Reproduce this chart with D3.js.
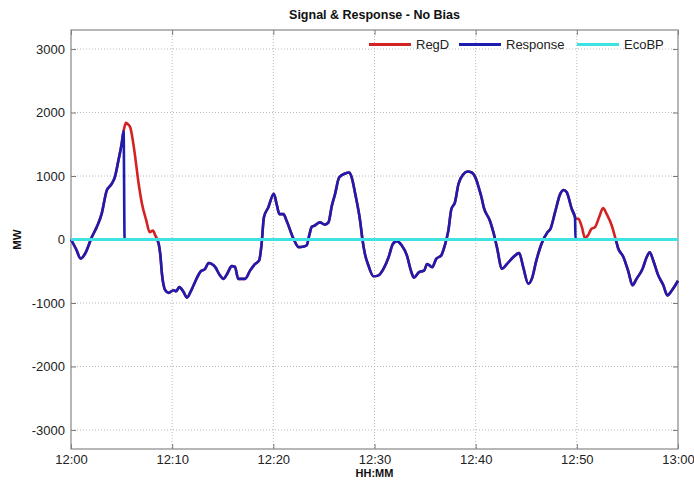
<!DOCTYPE html>
<html><head><meta charset="utf-8">
<script src="https://cdn.jsdelivr.net/npm/d3@7"></script>
<style>body{margin:0;background:#fff}svg{display:block}text{font-family:"Liberation Sans",Arial,sans-serif}</style>
</head><body><svg id="c" width="694" height="481"></svg>
<script>
const title = "Signal & Response - No Bias";
const xLabel = "HH:MM", yLabel = "MW";
const seriesNames = ["RegD", "Response", "EcoBP"];
const minutes = [0,0.5,0.96,1.4,2.05,2.54,3.03,3.53,4.02,4.35,4.68,5.0,5.2,5.3,5.43,5.6,5.86,6.26,6.69,7.02,7.44,7.77,8.1,8.33,8.56,8.82,8.99,9.32,9.65,10.14,10.4,10.7,11.1,11.46,11.8,12.12,12.78,13.27,13.6,14.26,14.7,15.08,15.4,15.9,16.2,16.53,17.2,17.7,18.2,18.6,18.84,19.07,19.5,20.05,20.35,20.6,21.0,21.3,22.0,22.5,23.0,23.3,23.55,23.8,24.1,24.6,25.1,25.45,25.78,26.1,26.5,27.1,27.5,27.75,28.1,28.6,28.8,29.05,29.4,29.9,30.4,30.9,31.4,31.8,32.2,32.7,33.2,33.6,33.9,34.4,34.9,35.2,35.7,36.1,36.6,36.9,37.3,37.6,37.95,38.3,38.8,39.2,39.6,40.1,40.3,40.6,40.8,41.4,41.75,42.1,42.6,43.1,43.7,44.3,44.7,45.2,45.55,46.0,46.5,47.1,47.4,47.85,48.35,48.7,49.0,49.5,49.82,49.87,50.15,50.5,50.8,51.1,51.45,51.8,52.2,52.6,52.95,53.45,53.8,54.1,54.6,55.1,55.5,55.9,56.5,56.9,57.2,57.55,58.05,58.55,58.95,59.4,60.0];
const regD = [0,-150,-300,-220,35,195,404,770,875,990,1240,1500,1710,1780,1840,1820,1765,1400,875,560,300,115,140,65,-15,-225,-540,-800,-840,-800,-815,-750,-820,-915,-830,-720,-510,-460,-370,-435,-560,-620,-550,-420,-430,-620,-620,-490,-385,-330,-70,350,505,720,540,400,400,300,10,-120,-110,-90,65,200,220,270,235,270,530,715,975,1040,1055,975,715,270,10,-225,-410,-580,-565,-460,-275,-75,-25,-95,-250,-490,-600,-515,-490,-385,-435,-305,-250,-120,140,480,585,875,1030,1070,1055,925,820,650,505,300,115,-120,-460,-385,-280,-215,-435,-695,-620,-330,-70,115,170,430,715,780,745,480,350,330,325,195,25,65,170,195,350,495,400,220,25,-145,-275,-510,-720,-620,-460,-280,-200,-330,-565,-720,-880,-800,-650];
const response = [0,-150,-300,-220,35,195,404,770,875,990,1240,1500,1710,0,0,0,0,0,0,0,0,0,0,0,-15,-225,-540,-800,-840,-800,-815,-750,-820,-915,-830,-720,-510,-460,-370,-435,-560,-620,-550,-420,-430,-620,-620,-490,-385,-330,-70,350,505,720,540,400,400,300,10,-120,-110,-90,65,200,220,270,235,270,530,715,975,1040,1055,975,715,270,10,-225,-410,-580,-565,-460,-275,-75,-25,-95,-250,-490,-600,-515,-490,-385,-435,-305,-250,-120,140,480,585,875,1030,1070,1055,925,820,650,505,300,115,-120,-460,-385,-280,-215,-435,-695,-620,-330,-70,115,170,430,715,780,745,480,350,0,0,0,0,0,0,0,0,0,0,0,0,-145,-275,-510,-720,-620,-460,-280,-200,-330,-565,-720,-880,-800,-650];
const ecoBP = [0,0];
const ecoBPMinutes = [0,60];
const yTicks = [-3000,-2000,-1000,0,1000,2000,3000];
const xTickMinutes = [0,10,20,30,40,50,60];
const colors = ["#d42222","#1c1cb0","#3fe2e2"];

const svg = d3.select("#c");
const L=71, R=678, T=30, B=449;
const base = new Date(2020,0,1,12,0,0);
const toDate = m => new Date(base.getTime()+m*60000);
const x = d3.scaleTime().domain([toDate(0),toDate(60)]).range([L,R]);
const y = d3.scaleLinear().domain([-3300,3300]).range([B,T]);

// grid
const g = svg.append("g");
g.selectAll(".gx").data(xTickMinutes.slice(1,-1)).join("line")
  .attr("x1",d=>x(toDate(d))).attr("x2",d=>x(toDate(d))).attr("y1",T).attr("y2",B)
  .attr("stroke","#b8b8b8").attr("stroke-dasharray","1,2").attr("stroke-width",1);
g.selectAll(".gy").data(yTicks).join("line")
  .attr("x1",L).attr("x2",R).attr("y1",d=>y(d)).attr("y2",d=>y(d))
  .attr("stroke","#b8b8b8").attr("stroke-dasharray","1,2").attr("stroke-width",1);

// axes
const fmt = d3.timeFormat("%H:%M");
const xa = svg.append("g").attr("transform",`translate(0,${B})`)
  .call(d3.axisBottom(x).tickValues(xTickMinutes.map(toDate)).tickFormat(fmt).tickSizeInner(-5).tickSizeOuter(0).tickPadding(6));
const xt = svg.append("g").attr("transform",`translate(0,${T})`)
  .call(d3.axisTop(x).tickValues(xTickMinutes.map(toDate)).tickFormat("").tickSizeInner(-5).tickSizeOuter(0));
const ya = svg.append("g").attr("transform",`translate(${L},0)`)
  .call(d3.axisLeft(y).tickValues(yTicks).tickFormat(d => String(d)).tickSizeInner(-5).tickSizeOuter(0).tickPadding(6));
const yr = svg.append("g").attr("transform",`translate(${R},0)`)
  .call(d3.axisRight(y).tickValues(yTicks).tickFormat("").tickSizeInner(-5).tickSizeOuter(0));
[xa,xt,ya,yr].forEach(a=>{
  a.select(".domain").remove();
  a.selectAll("line").attr("stroke","#777");
  a.selectAll("text").attr("fill","#222").style("font-size","13px");
});
svg.append("rect").attr("x",L).attr("y",T).attr("width",R-L).attr("height",B-T)
  .attr("fill","none").attr("stroke","#888").attr("stroke-width",1.2);

// lines
const line = d3.line().x(d=>x(toDate(d[0]))).y(d=>y(d[1])).curve(d3.curveMonotoneX);
svg.append("path").datum(minutes.map((m,i)=>[m,regD[i]])).attr("d",line)
  .attr("fill","none").attr("stroke",colors[0]).attr("stroke-width",2.6).attr("stroke-linejoin","round");
svg.append("path").datum(minutes.map((m,i)=>[m,response[i]])).attr("d",line)
  .attr("fill","none").attr("stroke",colors[1]).attr("stroke-width",2.6).attr("stroke-linejoin","round");
svg.append("path").datum(ecoBPMinutes.map((m,i)=>[m,ecoBP[i]])).attr("d",line)
  .attr("fill","none").attr("stroke",colors[2]).attr("stroke-width",2.8);

// legend
const legX = [369,459,577], legW = 42, legY = 44.5;
seriesNames.forEach((n,i)=>{
  svg.append("line").attr("x1",legX[i]).attr("x2",legX[i]+legW).attr("y1",legY).attr("y2",legY)
    .attr("stroke",colors[i]).attr("stroke-width",2.8);
  svg.append("text").attr("x",legX[i]+legW+5).attr("y",legY).attr("dy","0.36em")
    .style("font-size","13px").attr("fill","#222").text(n);
});

// titles
svg.append("text").attr("x",(L+R)/2).attr("y",19).attr("text-anchor","middle")
  .style("font-size","12.5px").style("font-weight","bold").attr("fill","#111").text(title);
svg.append("text").attr("x",(L+R)/2).attr("y",477).attr("text-anchor","middle")
  .style("font-size","11px").style("font-weight","bold").attr("fill","#111").text(xLabel);
svg.append("text").attr("transform",`translate(21,${y(0)}) rotate(-90)`).attr("text-anchor","middle")
  .style("font-size","11.5px").style("font-weight","bold").attr("fill","#111").text(yLabel);
</script></body></html>
